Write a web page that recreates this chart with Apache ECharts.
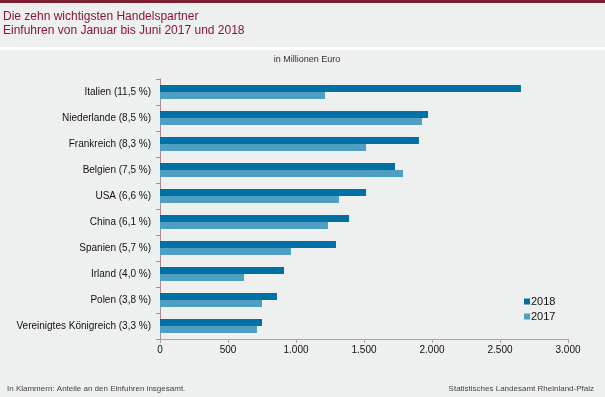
<!DOCTYPE html>
<html>
<head>
<meta charset="utf-8">
<script src="https://cdn.jsdelivr.net/npm/echarts@6/dist/echarts.min.js"></script>
<style>
html,body{margin:0;padding:0;background:#eeefef;}
#wrap{position:relative;width:605px;height:397px;background:#eeefef;overflow:hidden;}
#topbar{position:absolute;left:0;top:0;width:605px;height:3px;background:#7d1f35;}
#stripe{position:absolute;left:0;top:47px;width:605px;height:3px;background:#ffffff;}
#chart{position:absolute;left:0;top:0;width:605px;height:397px;}
</style>
</head>
<body>
<div id="wrap">
<div id="topbar"></div>
<div id="stripe"></div>
<div id="chart"></div>
</div>
<script>
const categories = ["Italien (11,5 %)","Niederlande (8,5 %)","Frankreich (8,3 %)","Belgien (7,5 %)","USA (6,6 %)","China (6,1 %)","Spanien (5,7 %)","Irland (4,0 %)","Polen (3,8 %)","Vereinigtes Königreich (3,3 %)"];
const values2018 = [2654,1971,1904,1728,1515,1390,1294,912,860,750];
const values2017 = [1213,1926,1515,1787,1316,1235,963,618,750,713];
const seriesNames = ["2018","2017"];
const xTicks = [0,500,1000,1500,2000,2500,3000];

const chart = echarts.init(document.getElementById('chart'), null, {renderer:'canvas'});
const font = 'Liberation Sans, Arial, sans-serif';
chart.setOption({
  backgroundColor: 'transparent',
  animation: false,
  textStyle: {fontFamily: font},
  title: [
    {text: 'Die zehn wichtigsten Handelspartner\nEinfuhren von Januar bis Juni 2017 und 2018', left: 3, top: 10, padding: 0,
     textStyle: {fontSize: 12, fontWeight: 'normal', color: '#8b1538', lineHeight: 14, fontFamily: font}},
    {text: 'in Millionen Euro', left: 307, top: 55, padding: 0, textAlign: 'center',
     textStyle: {fontSize: 9, fontWeight: 'normal', color: '#333', fontFamily: font}},
    {text: 'In Klammern: Anteile an den Einfuhren insgesamt.', left: 7, top: 385, padding: 0,
     textStyle: {fontSize: 8, fontWeight: 'normal', color: '#444', fontFamily: font}},
    {text: 'Statistisches Landesamt Rheinland-Pfalz', right: 11, top: 385, padding: 0,
     textStyle: {fontSize: 8, fontWeight: 'normal', color: '#444', fontFamily: font}}
  ],
  legend: {
    orient: 'vertical', left: 524, top: 296, padding: 0, itemWidth: 6, itemHeight: 6, itemGap: 4,
    icon: 'rect', data: seriesNames,
    textStyle: {fontSize: 11, color: '#111', fontFamily: font, padding: [0,0,0,-4]}
  },
  grid: {left: 160, right: 37, top: 79, bottom: 58, containLabel: false},
  xAxis: {
    type: 'value', min: 0, max: 3000, interval: 500,
    axisLine: {show: true, lineStyle: {color: '#a6a6a6'}},
    axisTick: {show: true, length: 4, lineStyle: {color: '#a6a6a6'}},
    splitLine: {show: false},
    axisLabel: {fontSize: 10, color: '#111', margin: 6,
      formatter: v => xTicks.includes(v) ? (v >= 1000 ? Math.floor(v/1000) + '.' + String(v%1000).padStart(3,'0') : String(v)) : ''}
  },
  yAxis: {
    type: 'category', data: categories, inverse: true,
    axisLine: {show: true, lineStyle: {color: '#b08890'}},
    axisTick: {show: true, length: 4, lineStyle: {color: '#b08890'}},
    axisLabel: {fontSize: 10, color: '#111', margin: 9}
  },
  series: [
    {name: seriesNames[0], type: 'bar', data: values2018, barWidth: 7, barGap: '0%', barCategoryGap: '42%',
     itemStyle: {color: '#0071a4'}},
    {name: seriesNames[1], type: 'bar', data: values2017, barWidth: 7, barGap: '0%',
     itemStyle: {color: '#4f9fc2'}}
  ]
});
</script>
</body>
</html>
